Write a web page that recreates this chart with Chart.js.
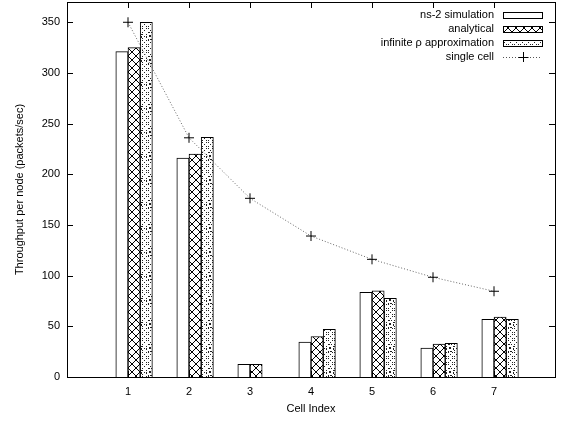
<!DOCTYPE html>
<html>
<head>
<meta charset="utf-8">
<script src="https://cdn.jsdelivr.net/npm/chart.js@4/dist/chart.umd.min.js"></script>
<style>
  html, body { margin: 0; padding: 0; background: #fff; }
  #wrap { width: 563px; height: 421px; }
</style>
</head>
<body>
<div id="wrap"><canvas id="chart"></canvas></div>
<script>
// values
const cells = [1, 2, 3, 4, 5, 6, 7];
const ns2Sim = [321, 216, 12.5, 34.5, 83.6, 28.6, 57];
const analytical = [325, 220, 12.5, 40, 85, 32.6, 59.2];
const infiniteRho = [350, 236.5, null, 47, 77.6, 33.2, 57];
const singleCell = [350, 236, 176.3, 139.1, 116.1, 98.4, 84.6];
const yTicks = [0, 50, 100, 150, 200, 250, 300, 350];
const seriesNames = ['ns-2 simulation', 'analytical', 'infinite \u03c1 approximation', 'single cell'];

const FONT = '"Liberation Sans", Arial, Helvetica, sans-serif';

function makeTile(w, h, draw) {
    const c = document.createElement('canvas');
    c.width = w; c.height = h;
    const g = c.getContext('2d');
    g.fillStyle = '#fff';
    g.fillRect(0, 0, w, h);
    draw(g);
    return g.createPattern(c, 'repeat');
}

// crosshatch for "analytical"
const crossFill = makeTile(8, 8, g => {
    g.fillStyle = '#000';
    for (let i = 0; i < 8; i++) {
        g.fillRect(i, i, 1, 1);
        g.fillRect(7 - i, i, 1, 1);
    }
});

// dotted crosshatch with small rings for "infinite rho"
const dotFill = makeTile(12, 24, g => {
    g.fillStyle = '#222';
    for (let y = 0; y < 24; y++) {
        for (let x = 0; x < 12; x++) {
            if (((x + y) % 6 === 0 || (x - y + 24) % 6 === 0) && y % 2 === 0) g.fillRect(x, y, 1, 1);
        }
    }
    g.fillStyle = '#fff';
    g.fillRect(2, 8, 8, 8);
    g.fillStyle = '#222';
    for (let k = 0; k < 12; k++) {
        const t = k / 12 * Math.PI * 2;
        g.fillRect(Math.round(6 + 3.5 * Math.cos(t) - 0.5), Math.round(12 + 3.5 * Math.sin(t) - 0.5), 1, 1);
    }
    g.fillRect(5, 11, 2, 2);
});

const fills = ['#fff', crossFill, dotFill];
const offsets = [-0.1, 0.1, 0.3];

const framePlugin = {
    id: 'frame',
    afterDraw(chart) {
        const { ctx, chartArea: a, scales: { x, y } } = chart;
        ctx.save();
        ctx.strokeStyle = '#000';
        ctx.lineWidth = 1;
        ctx.beginPath();
        const tl = 6;
        cells.forEach(c => {
            const px = Math.round(x.getPixelForValue(c)) + 0.5;
            ctx.moveTo(px, a.bottom); ctx.lineTo(px, a.bottom - tl);
            ctx.moveTo(px, a.top); ctx.lineTo(px, a.top + tl);
        });
        yTicks.forEach(v => {
            const py = Math.round(y.getPixelForValue(v)) + 0.5;
            ctx.moveTo(a.left, py); ctx.lineTo(a.left + tl, py);
            ctx.moveTo(a.right, py); ctx.lineTo(a.right - tl, py);
        });
        ctx.stroke();
        ctx.strokeRect(Math.round(a.left) + 0.5, Math.round(a.top) + 0.5,
            Math.round(a.right - a.left), Math.round(a.bottom - a.top));

        // key, top right
        ctx.font = '11px ' + FONT;
        ctx.textAlign = 'right';
        ctx.textBaseline = 'middle';
        const boxR = Math.round(a.right) - 13, boxL = boxR - 39, textR = boxL - 9;
        seriesNames.forEach((name, i) => {
            const yc = Math.round(a.top) + 13 + i * 14;
            ctx.fillStyle = '#000';
            ctx.fillText(name, textR, yc);
            if (i < 3) {
                ctx.fillStyle = fills[i];
                ctx.fillRect(boxL, yc - 3, boxR - boxL, 6);
                ctx.strokeStyle = '#000';
                ctx.strokeRect(boxL + 0.5, yc - 2.5, boxR - boxL, 6);
            } else {
                ctx.strokeStyle = '#555';
                ctx.setLineDash([1, 2]);
                ctx.beginPath();
                ctx.moveTo(boxL, yc + 0.5); ctx.lineTo(boxR, yc + 0.5);
                ctx.stroke();
                ctx.setLineDash([]);
                const cx = Math.round((boxL + boxR) / 2) + 0.5;
                ctx.strokeStyle = '#000';
                ctx.beginPath();
                ctx.moveTo(cx - 5, yc + 0.5); ctx.lineTo(cx + 5, yc + 0.5);
                ctx.moveTo(cx, yc - 5); ctx.lineTo(cx, yc + 5);
                ctx.stroke();
            }
        });
        ctx.restore();
    }
};

const barSets = [ns2Sim, analytical, infiniteRho].map((vals, i) => ({
    type: 'bar',
    label: seriesNames[i],
    data: cells.map((c, j) => ({ x: c + offsets[i], y: vals[j] })),
    backgroundColor: fills[i],
    borderColor: '#000',
    borderWidth: 1,
    grouped: false,
    barPercentage: 1,
    categoryPercentage: 1,
    order: 1
}));

new Chart(document.getElementById('chart'), {
    type: 'bar',
    data: {
        datasets: barSets.concat([{
            type: 'line',
            label: seriesNames[3],
            data: cells.map((c, j) => ({ x: c, y: singleCell[j] })),
            borderColor: '#666',
            borderWidth: 1,
            borderDash: [1, 2],
            pointStyle: 'cross',
            pointRadius: 5,
            pointBorderColor: '#000',
            pointBorderWidth: 1,
            fill: false,
            tension: 0,
            clip: false,
            order: 0
        }])
    },
    options: {
        responsive: true,
        maintainAspectRatio: false,
        animation: false,
        layout: { autoPadding: false, padding: { top: 2, right: 8, left: 0, bottom: 0 } },
        plugins: { legend: { display: false }, tooltip: { enabled: false } },
        scales: {
            x: {
                type: 'linear',
                min: 0, max: 8,
                offset: false,
                grid: { display: false, drawTicks: false },
                border: { display: false },
                afterFit(s) { s.height = 44; s.paddingLeft = 0; s.paddingRight = 0; },
                ticks: {
                    stepSize: 1,
                    autoSkip: false,
                    maxRotation: 0,
                    padding: 8,
                    color: '#000',
                    font: { family: FONT, size: 11 },
                    callback: v => cells.includes(v) ? String(v) : ''
                },
                title: {
                    display: true,
                    text: 'Cell Index',
                    color: '#000',
                    font: { family: FONT, size: 11 },
                    padding: { top: 0, bottom: 5 }
                }
            },
            y: {
                min: 0, max: 370,
                grid: { display: false, drawTicks: false },
                border: { display: false },
                afterFit(s) { s.width = 67; s.paddingTop = 0; s.paddingBottom = 0; },
                ticks: {
                    stepSize: 50,
                    padding: 7,
                    color: '#000',
                    font: { family: FONT, size: 11 },
                    callback: v => yTicks.includes(v) ? String(v) : ''
                },
                title: {
                    display: true,
                    text: 'Throughput per node (packets/sec)',
                    color: '#000',
                    font: { family: FONT, size: 11 },
                    padding: { top: 13, bottom: 0 }
                }
            }
        }
    },
    plugins: [framePlugin]
});
</script>
</body>
</html>
